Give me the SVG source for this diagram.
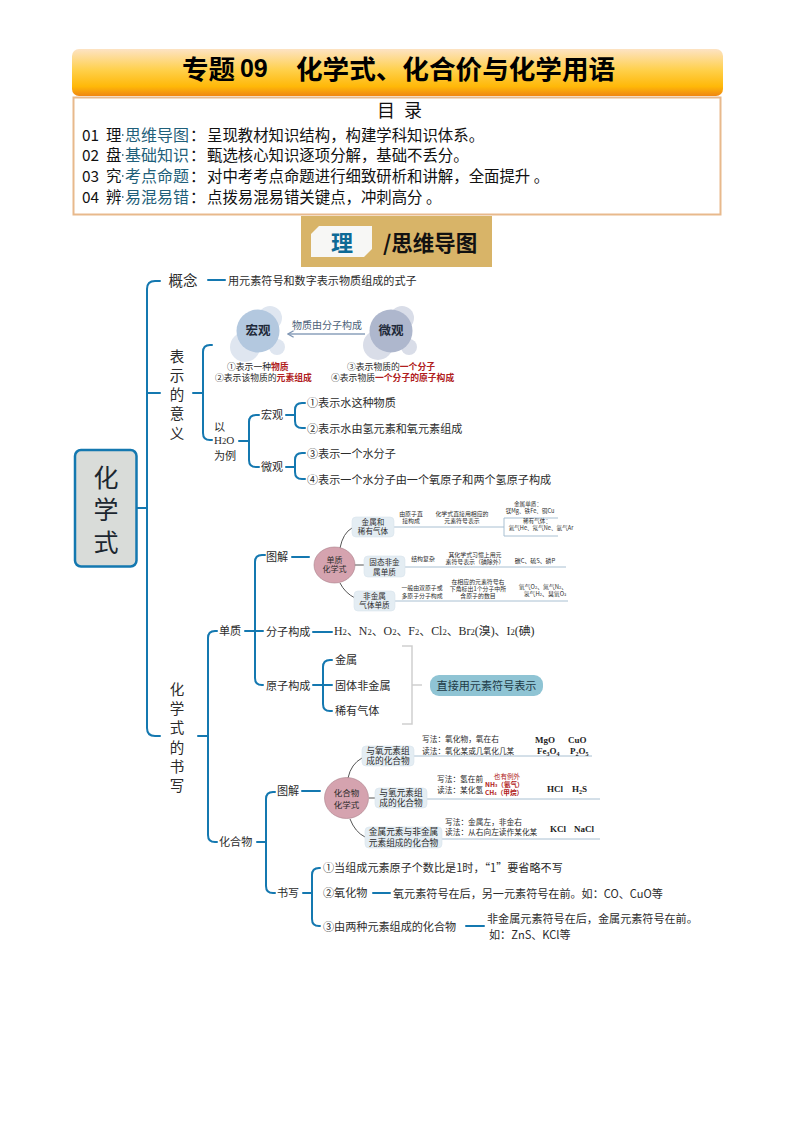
<svg xmlns="http://www.w3.org/2000/svg" width="794" height="1123" viewBox="0 0 794 1123">
<style>
text{font-family:"Noto Sans CJK SC","Liberation Sans",sans-serif;fill:#2b2b2b;dominant-baseline:central;transform:translateY(-.09em)}
.m{text-anchor:middle}
.s{font-family:"Liberation Serif","Noto Sans CJK SC",serif}
.f11{font-size:11.1px}.f14{font-size:14.5px}.f6{font-size:5.9px}.f55{font-size:5.6px}.f77{font-size:7.7px}.f75{font-size:7.6px}.f87{font-size:8.7px}
.toc{font-size:15.4px;fill:#111}.lab{font-size:16px;fill:#1f5f7a}
.red{fill:#b02020;font-weight:700}
.chem{font-family:"Liberation Serif",serif;font-weight:700;font-size:9px;fill:#222;transform:none}
.sub{font-size:8.600px;baseline-shift:-1.2px}
.sub6{font-size:6px;baseline-shift:-2.5px}
.sub4{font-size:4px;baseline-shift:-.8px}
.redx{font-size:6.600px;fill:#b02020}
.b{fill:none;stroke:#1478b0;stroke-width:2;stroke-linecap:round}
.g{fill:none;stroke:#cfcfcf;stroke-width:1.5}
.u{fill:none;stroke:#a9c0d2;stroke-width:1}
.c{fill:none;stroke:#555;stroke-width:1}
.box{fill:#e4edf3;stroke:#d8e4ec;stroke-width:.6}
.el{fill:#d5a3af;stroke:#a98089;stroke-width:.6}
.p1{fill:#dfe6f0}.p2{fill:#d9dde8}
</style>
<defs>
<linearGradient id="hd" x1="0" y1="0" x2="0" y2="1">
<stop offset="0" stop-color="#fde3c4"/><stop offset=".45" stop-color="#ffd04a"/><stop offset=".8" stop-color="#ffb808"/><stop offset="1" stop-color="#ef8612"/>
</linearGradient>
<marker id="ah" viewBox="0 0 8 8" refX="7" refY="4" markerWidth="5" markerHeight="5" orient="auto"><path d="M1 .5L7 4L1 7.500" fill="none" stroke="#7f96b4" stroke-width="1.400"/></marker>
</defs>
<rect width="794" height="1123" fill="#fff"/>

<g id="header">
<rect x="72" y="49" width="651" height="47" rx="7" fill="url(#hd)"/>
<text x="182" y="70" font-size="26.500" font-weight="700" style="fill:#000">专题<tspan x="233" font-family="Liberation Sans" font-size="25"> 09</tspan></text>
<text x="296" y="70" font-size="26.600" font-weight="700" style="fill:#000">化学式、化合价与化学用语</text>
</g>
<g id="toc">
<rect x="73.500" y="97.500" width="647" height="117" fill="#fff" stroke="#e8b98c" stroke-width="2"/>
<text x="377" y="111" font-size="18" word-spacing="5" style="fill:#111">目 录</text>
<text x="82" y="135" class="toc">01</text><text x="106" y="135" class="toc">理</text><text x="125" y="135" class="lab">思维导图</text><text x="190" y="135" class="toc">：</text><text x="207" y="135" class="toc">呈现教材知识结构，构建学科知识体系。</text>
<text x="82" y="155" class="toc">02</text><text x="106" y="155" class="toc">盘</text><text x="125" y="155" class="lab">基础知识</text><text x="190" y="155" class="toc">：</text><text x="207" y="155" class="toc">甄选核心知识逐项分解，基础不丢分。</text>
<text x="82" y="176" class="toc">03</text><text x="106" y="176" class="toc">究</text><text x="125" y="176" class="lab">考点命题</text><text x="190" y="176" class="toc">：</text><text x="207" y="176" class="toc">对中考考点命题进行细致研析和讲解，全面提升 。</text>
<text x="82" y="197" class="toc">04</text><text x="106" y="197" class="toc">辨</text><text x="125" y="197" class="lab">易混易错</text><text x="190" y="197" class="toc">：</text><text x="207" y="197" class="toc">点拨易混易错关键点，冲刺高分 。</text>
<path d="M122 135h1.500M122 155h1.500M122 176h1.500M122 197h1.500" stroke="#1f5f7a" stroke-width="1.500"/>
</g>
<g id="tag">
<rect x="301" y="216" width="191" height="51" fill="#d8b468"/>
<path d="M319 226H372V249L364 257H311V234Z" fill="#f7f7f5"/>
<text x="342" y="243" class="m" font-size="22" font-weight="700" style="fill:#0e6a96">理</text>
<text x="383" y="243" font-size="21.500" font-weight="700" style="fill:#111">/思维导图</text>
</g>

<g id="connectors">
<path class="b" d="M137 508H147M160 281H155Q147 281 147 289V728Q147 736 155 736H160M147 393H160"/>
<path class="b" d="M208 280H225"/>
<path class="b" d="M193 393H203M212 345H210Q203 345 203 352V433Q203 440 210 440H212"/>
<path class="b" d="M239 441H249M259 415H256Q249 415 249 422V460Q249 467 256 467H259"/>
<path class="b" d="M286 415H295M305 403H302Q295 403 295 410V421Q295 428 302 428H305"/>
<path class="b" d="M286 467H295M305 453H302Q295 453 295 460V472Q295 479 302 479H305"/>
<path d="M365 334H288" fill="none" stroke="#8ba0bb" stroke-width="1.500" marker-end="url(#ah)"/>
<path class="b" d="M198 736H208M217 631H215Q208 631 208 638V835Q208 842 215 842H217"/>
<path class="b" d="M245 631H263M265 555H262Q255 555 255 562V678Q255 685 262 685H263"/>
<path class="b" d="M292 557H309M313 632H332M313 685H332M332 660H330Q323 660 323 667V704Q323 711 330 711H332"/>
<path class="g" d="M402 646H412V724H402M412 685H422"/>
<path class="c" d="M340 548Q343 533 352 528M340 583Q345 593 355 598M355 565H364"/>
<path class="u" d="M394 527H504M504 518H558M504 518V536H558M405 567H566M395 601H568"/>
<path class="b" d="M257 842H266M275 792H273Q266 792 266 799V886Q266 893 273 893H275M302 791H320"/>
<path class="b" d="M303 893H312M320 868H319Q312 868 312 875V919Q312 926 319 926H320M373 893H390M466 926H484"/>
<path class="c" d="M348 778Q351 764 362 758M350 819Q355 832 365 837M369 798H375"/>
<path class="u" d="M414 756H592M427 799H600M442 839H600"/>
</g>

<g id="root">
<rect x="75" y="450" width="61.500" height="116.500" rx="6" fill="#d9dcd9" stroke="#1478b0" stroke-width="2.500"/>
<text class="m" font-size="25" style="fill:#1c2730"><tspan x="106" y="478">化</tspan><tspan x="106" y="510">学</tspan><tspan x="106" y="543">式</tspan></text>
</g>
<g id="concept">
<text x="183" y="281" class="m f14">概念</text>
<text x="228" y="281" class="f11">用元素符号和数字表示物质组成的式子</text>
</g>
<g id="meaning">
<text class="m f14"><tspan x="177" y="356">表</tspan><tspan x="177" y="375">示</tspan><tspan x="177" y="394">的</tspan><tspan x="177" y="413">意</tspan><tspan x="177" y="433">义</tspan></text>
</g>
<g id="macro-circle">
<circle cx="245" cy="347" r="15" class="p1"/><circle cx="270" cy="318" r="12" class="p1"/><circle cx="277" cy="347" r="8" class="p1"/>
<circle cx="258" cy="331" r="21.500" fill="#b3c8df"/>
<text x="258" y="331" class="m" font-size="12.500" font-weight="700" style="fill:#1f2a3a">宏观</text>
</g>
<g id="micro-circle">
<circle cx="378" cy="345" r="15" class="p2"/><circle cx="402" cy="318" r="12" class="p2"/><circle cx="409" cy="347" r="8" class="p2"/>
<circle cx="391" cy="331" r="21.500" fill="#aeb7cd"/>
<text x="391" y="331" class="m" font-size="12.500" font-weight="700" style="fill:#1f2a3a">微观</text>
</g>
<g id="macro-micro-text">
<text x="327" y="325" class="m" font-size="10" style="fill:#4c5f78">物质由分子构成</text>
<text x="227" y="367" font-size="8.800">①表示一种<tspan class="red">物质</tspan></text>
<text x="215" y="378" font-size="8.800">②表示该物质的<tspan class="red">元素组成</tspan></text>
<text x="347" y="367" font-size="8.800">③表示物质的<tspan class="red">一个分子</tspan></text>
<text x="331" y="378" font-size="8.800">④表示物质<tspan class="red">一个分子的原子构成</tspan></text>
</g>
<g id="h2o">
<text x="214" y="427" class="f11">以</text>
<text x="214" y="441" class="s f11">H<tspan class="sub">2</tspan>O</text>
<text x="214" y="456" class="f11">为例</text>
<text x="261" y="415" class="f11">宏观</text>
<text x="261" y="467" class="f11">微观</text>
<text x="307" y="403" class="f11">①表示水这种物质</text>
<text x="307" y="429" class="f11">②表示水由氢元素和氧元素组成</text>
<text x="307" y="454" class="f11">③表示一个水分子</text>
<text x="307" y="480" class="f11">④表示一个水分子由一个氧原子和两个氢原子构成</text>
</g>
<g id="writing">
<text class="m f14"><tspan x="177" y="689">化</tspan><tspan x="177" y="708">学</tspan><tspan x="177" y="727">式</tspan><tspan x="177" y="747">的</tspan><tspan x="177" y="766">书</tspan><tspan x="177" y="785">写</tspan></text>
</g>
<g id="simple">
<text x="219" y="631" class="f11">单质</text>
<text x="266" y="557" class="f11">图解</text>
<text x="266" y="632" class="f11">分子构成</text>
<text x="334" y="632" class="s" font-size="11.900">H<tspan class="sub">2</tspan>、N<tspan class="sub">2</tspan>、O<tspan class="sub">2</tspan>、F<tspan class="sub">2</tspan>、Cl<tspan class="sub">2</tspan>、Br<tspan class="sub">2</tspan>(溴)、I<tspan class="sub">2</tspan>(碘)</text>
<text x="266" y="686" class="f11">原子构成</text>
<text x="335" y="660" class="f11">金属</text>
<text x="335" y="686" class="f11">固体非金属</text>
<text x="335" y="711" class="f11">稀有气体</text>
</g>
<g id="symbol-pill">
<rect x="430" y="675" width="113" height="21" rx="9" fill="#8fc4d4"/>
<text x="486.500" y="685.500" class="m" font-size="11.100" style="fill:#1d3a46">直接用元素符号表示</text>
</g>
<g id="simple-ellipse">
<ellipse cx="334.500" cy="565" rx="20.500" ry="18" class="el"/>
<text x="334.500" y="560" class="m" font-size="8">单质</text>
<text x="334.500" y="569.500" class="m" font-size="8">化学式</text>
</g>
<g id="metal-gas">
<rect x="352" y="517" width="42" height="20" rx="4" class="box"/>
<text x="373" y="522" class="m f75">金属和</text><text x="373" y="531" class="m f75">稀有气体</text>
<text x="411" y="514" class="m f6">由原子直</text><text x="411" y="521" class="m f6">接构成</text>
<text x="462" y="514" class="m f6">化学式直接用相应的</text><text x="462" y="521" class="m f6">元素符号表示</text>
<text x="528" y="505" class="m f55">金属单质：</text>
<text x="530" y="512" class="m f55">镁Mg、铁Fe、铜Cu</text>
<text x="537" y="522" class="m f55">稀有气体：</text>
<text x="541" y="529" class="m f55">氦气He、氖气Ne、氩气Ar</text>
</g>
<g id="solid-nonmetal">
<rect x="364" y="556" width="41" height="21" rx="4" class="box"/>
<text x="384.500" y="562" class="m f75">固态非金</text><text x="384.500" y="572" class="m f75">属单质</text>
<text x="423" y="559" class="m f6">结构复杂</text>
<text x="475" y="555" class="m f6">其化学式习惯上用元</text><text x="475" y="562" class="m f6">素符号表示（碘除外）</text>
<text x="535" y="561" class="m f6">碳C、硫S、磷P</text>
</g>
<g id="gas-nonmetal">
<rect x="354" y="591" width="41" height="20" rx="4" class="box"/>
<text x="374.500" y="596" class="m f75">非金属</text><text x="374.500" y="605" class="m f75">气体单质</text>
<text x="422" y="588" class="m f6">一般由双原子或</text><text x="422" y="596" class="m f6">多原子分子构成</text>
<text x="478" y="582" class="m f6">在相应的元素符号右</text><text x="478" y="589" class="m f6">下角标出1个分子中所</text><text x="478" y="596" class="m f6">含原子的数目</text>
<text x="543" y="587" class="m f6">氧气O<tspan class="sub4">2</tspan>、氮气N<tspan class="sub4">2</tspan>、</text><text x="545" y="594" class="m f6">氢气H<tspan class="sub4">2</tspan>、臭氧O<tspan class="sub4">3</tspan></text>
</g>
<g id="compound">
<text x="219" y="842" class="f11">化合物</text>
<text x="277" y="791" class="f11">图解</text>
<text x="277" y="893" class="f11">书写</text>
<text x="323" y="868" class="f11">①当组成元素原子个数比是1时，“1”要省略不写</text>
<text x="323" y="893" class="f11">②氧化物</text>
<text x="393" y="894" class="f11">氧元素符号在后，另一元素符号在前。如：CO、CuO等</text>
<text x="323" y="927" class="f11">③由两种元素组成的化合物</text>
<text x="487" y="919" class="f11">非金属元素符号在后，金属元素符号在前。</text>
<text x="489" y="935" class="f11">如：ZnS、KCl等</text>
</g>
<g id="compound-ellipse">
<ellipse cx="346.500" cy="798" rx="22" ry="20.500" class="el"/>
<text x="346.500" y="793" class="m" font-size="8.500">化合物</text>
<text x="346.500" y="805" class="m" font-size="8.500">化学式</text>
</g>
<g id="oxygen-compound">
<rect x="362" y="746" width="52" height="20" rx="4" class="box"/>
<text x="388" y="751" class="m f87">与氧元素组</text><text x="388" y="761" class="m f87">成的化合物</text>
<text x="422" y="739" class="f77">写法：氧化物，氧在右</text>
<text x="422" y="751" class="f77">读法：氧化某或几氧化几某</text>
<text x="535" y="740" class="chem">MgO</text><text x="568" y="740" class="chem">CuO</text>
<text x="537" y="751" class="chem">Fe<tspan class="sub6">3</tspan>O<tspan class="sub6">4</tspan></text>
<text x="570" y="751" class="chem">P<tspan class="sub6">2</tspan>O<tspan class="sub6">5</tspan></text>
</g>
<g id="hydrogen-compound">
<rect x="375" y="788" width="52" height="20" rx="4" class="box"/>
<text x="401" y="793" class="m f87">与氢元素组</text><text x="401" y="803" class="m f87">成的化合物</text>
<text x="437" y="779" class="f77">写法：氢在前</text>
<text x="437" y="790" class="f77">读法：某化氢</text>
<text x="507" y="777" class="m redx">也有例外</text>
<text x="485" y="785" class="redx" font-weight="700">NH<tspan class="sub4">3</tspan>（氨气）</text>
<text x="485" y="793" class="redx" font-weight="700">CH<tspan class="sub4">4</tspan>（甲烷）</text>
<text x="547" y="789" class="chem">HCl</text>
<text x="572" y="789" class="chem">H<tspan class="sub6">2</tspan>S</text>
</g>
<g id="metal-nonmetal-compound">
<rect x="365" y="827" width="77" height="21" rx="4" class="box"/>
<text x="403.500" y="832" class="m f87">金属元素与非金属</text><text x="403.500" y="843" class="m f87">元素组成的化合物</text>
<text x="445" y="822" class="f77">写法：金属左，非金右</text>
<text x="445" y="832" class="f77">读法：从右向左读作某化某</text>
<text x="550" y="829" class="chem">KCl</text><text x="574" y="829" class="chem">NaCl</text>
</g>
</svg>
